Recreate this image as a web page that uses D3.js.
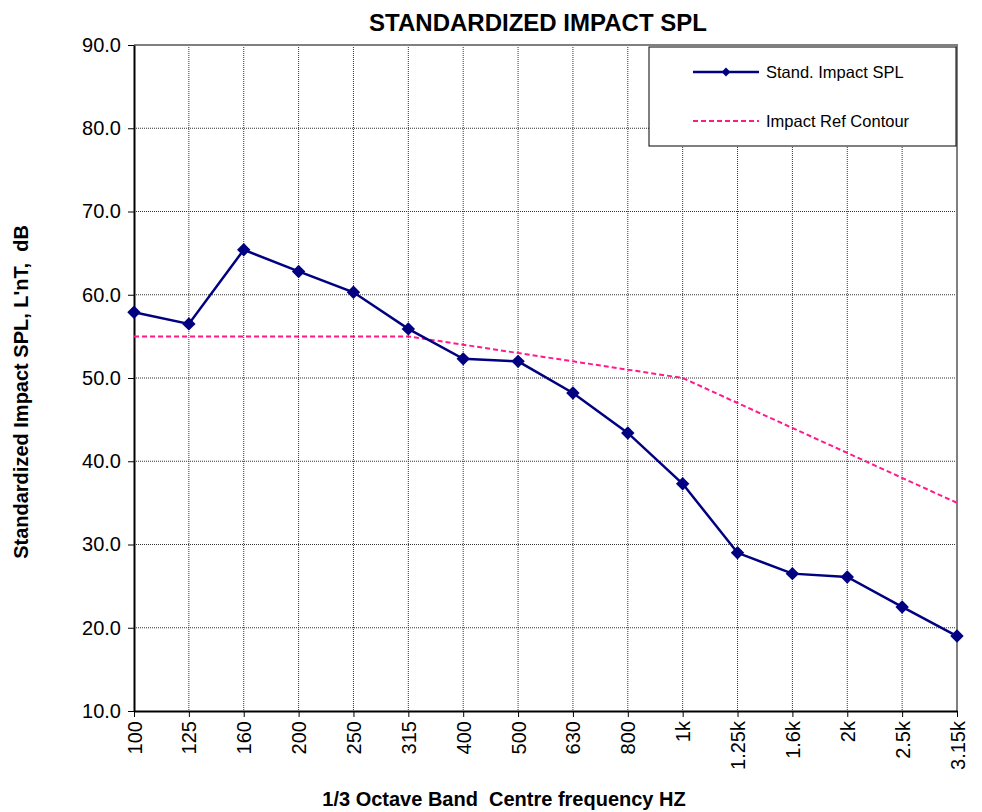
<!DOCTYPE html>
<html>
<head>
<meta charset="utf-8">
<script src="https://cdn.jsdelivr.net/npm/d3@7"></script>
<style>
  body { margin: 0; background: #fff; }
  svg text { font-family: "Liberation Sans", Arial, sans-serif; white-space: pre; }
</style>
</head>
<body>
<div id="chart"></div>
<script>
// data
var bands = ["100", "125", "160", "200", "250", "315", "400", "500", "630", "800",
             "1k", "1.25k", "1.6k", "2k", "2.5k", "3.15k"];
var impactSPL = [57.9, 56.5, 65.4, 62.8, 60.3, 55.9, 52.3, 52.0, 48.2, 43.4,
                 37.3, 29.0, 26.5, 26.1, 22.5, 19.0];
var refContour = [55, 55, 55, 55, 55, 55, 54, 53, 52, 51, 50, 47, 44, 41, 38, 35];
var yTicks = [10, 20, 30, 40, 50, 60, 70, 80, 90];

var width = 982, height = 812,
    margin = {top: 45, right: 25, bottom: 101, left: 134},
    plotW = width - margin.left - margin.right,
    plotH = height - margin.top - margin.bottom;

var svg = d3.select("#chart").append("svg")
    .attr("width", width).attr("height", height);

var g = svg.append("g")
    .attr("transform", "translate(" + margin.left + "," + margin.top + ")");

// scales
var x = d3.scalePoint().domain(bands).range([0, plotW]);
var y = d3.scaleLinear().domain([10, 90]).range([plotH, 0]);

// grid
g.append("g").selectAll("line").data(yTicks.slice(1, -1)).enter().append("line")
    .attr("x1", 0).attr("x2", plotW)
    .attr("y1", d => y(d)).attr("y2", d => y(d))
    .attr("stroke", "#333").attr("stroke-width", 1).attr("stroke-dasharray", "1,1");
g.append("g").selectAll("line").data(bands.slice(1, -1)).enter().append("line")
    .attr("x1", d => x(d)).attr("x2", d => x(d))
    .attr("y1", 0).attr("y2", plotH)
    .attr("stroke", "#333").attr("stroke-width", 1).attr("stroke-dasharray", "1,1");

// top / right border (grey)
g.append("path")
    .attr("d", "M0,0H" + plotW + "V" + plotH)
    .attr("fill", "none").attr("stroke", "#808080").attr("stroke-width", 2);

// axes
var yAxis = g.append("g")
    .call(d3.axisLeft(y).tickValues(yTicks).tickSize(6).tickSizeOuter(0).tickFormat(d3.format(".1f")));
yAxis.select(".domain").attr("stroke-width", 2);
yAxis.selectAll("text").style("font-size", "20px").attr("fill", "#000").attr("dx", "-4px");

var xAxis = g.append("g")
    .attr("transform", "translate(0," + plotH + ")")
    .call(d3.axisBottom(x).tickSize(6).tickSizeOuter(0));
xAxis.select(".domain").attr("stroke-width", 2);
xAxis.selectAll("text")
    .style("font-size", "20px").attr("fill", "#000")
    .attr("text-anchor", "end")
    .attr("transform", "rotate(-90)")
    .attr("x", -10).attr("y", 0).attr("dy", "0.35em");

// reference contour
var line = d3.line().x((d, i) => x(bands[i])).y(d => y(d));

g.append("path").datum(refContour)
    .attr("d", line)
    .attr("fill", "none").attr("stroke", "#ff1a8c")
    .attr("stroke-width", 2).attr("stroke-dasharray", "5,3");

// measured impact SPL
g.append("path").datum(impactSPL)
    .attr("d", line)
    .attr("fill", "none").attr("stroke", "#000080").attr("stroke-width", 2.5);

var diamond = d3.symbol().type(d3.symbolDiamond2).size(115);
g.append("g").selectAll("path").data(impactSPL).enter().append("path")
    .attr("d", diamond)
    .attr("transform", (d, i) => "translate(" + x(bands[i]) + "," + y(d) + ")")
    .attr("fill", "#000080");

// titles
svg.append("text")
    .attr("x", 538).attr("y", 31)
    .attr("text-anchor", "middle")
    .style("font-size", "24px").style("font-weight", "bold")
    .text("STANDARDIZED IMPACT SPL");

svg.append("text")
    .attr("x", 504).attr("y", 806)
    .attr("text-anchor", "middle")
    .style("font-size", "20px").style("font-weight", "bold")
    .text("1/3 Octave Band  Centre frequency HZ");

svg.append("text")
    .attr("transform", "translate(28,392) rotate(-90)")
    .attr("text-anchor", "middle")
    .style("font-size", "20px").style("font-weight", "bold")
    .text("Standardized Impact SPL, L'nT,  dB");

// legend
var legend = svg.append("g").attr("transform", "translate(649,47)");
legend.append("rect")
    .attr("width", 307).attr("height", 99)
    .attr("fill", "#fff").attr("stroke", "#000").attr("stroke-width", 1);

legend.append("line")
    .attr("x1", 44).attr("x2", 110).attr("y1", 25).attr("y2", 25)
    .attr("stroke", "#000080").attr("stroke-width", 2.5);
legend.append("path")
    .attr("d", d3.symbol().type(d3.symbolDiamond2).size(50))
    .attr("transform", "translate(77,25)").attr("fill", "#000080");
legend.append("text")
    .attr("x", 117).attr("y", 25).attr("dy", "0.35em")
    .style("font-size", "16.5px").text("Stand. Impact SPL");

legend.append("line")
    .attr("x1", 44).attr("x2", 110).attr("y1", 74).attr("y2", 74)
    .attr("stroke", "#ff1a8c").attr("stroke-width", 2).attr("stroke-dasharray", "5,3");
legend.append("text")
    .attr("x", 117).attr("y", 74).attr("dy", "0.35em")
    .style("font-size", "16.5px").text("Impact Ref Contour");
</script>
</body>
</html>
